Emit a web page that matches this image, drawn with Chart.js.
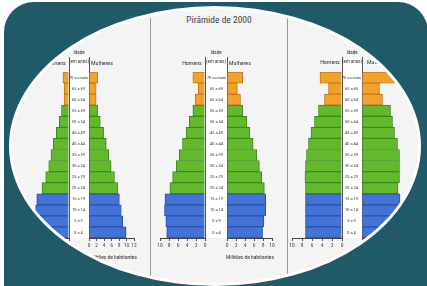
<!DOCTYPE html>
<html>
<head>
<meta charset="utf-8">
<script src="https://cdn.jsdelivr.net/npm/chart.js@4.4.1/dist/chart.umd.min.js"></script>
<style>
  html, body { margin: 0; padding: 0; background: #fff; }
  #frame { position: relative; width: 427px; height: 286px; overflow: hidden; }
  #panel { position: absolute; left: 4px; top: 2px; width: 424px; height: 320px; background: #215a67; border-radius: 30px; }
  #ring { position: absolute; left: 9px; top: 6px; width: 412px; height: 280px; border-radius: 50%; background: #fff; }
  #photo { position: absolute; left: 12px; top: 9px; width: 406px; height: 274px; border-radius: 50%; overflow: hidden; background: #f4f4f4; }
  #sheet { position: absolute; left: -12px; top: -9px; width: 427px; height: 286px; }
  .lbl { position: absolute; font-family: "Liberation Sans Narrow", "Roboto Condensed", "Liberation Sans", sans-serif;
         color: #333; white-space: nowrap; transform: translateX(-50%); line-height: 1; }
  .col { position: absolute; top: 57px; height: 181px; box-sizing: border-box; background: #fff;
         border-left: 1px solid #555; border-right: 1px solid #555; }
  .sep { position: absolute; top: 18px; height: 258px; width: 1px; background: #999; }
  canvas { position: absolute; top: 72px; }
</style>
</head>
<body>
<div id="frame">
  <div id="panel"></div>
  <div id="ring"></div>
  <div id="photo">
    <div id="sheet">
      <div class="sep" style="left:150px"></div>
      <div class="sep" style="left:287px"></div>

      <div class="col" style="left:69px;width:21px"></div>
      <div class="col" style="left:205px;width:23px"></div>
      <div class="col" style="left:342px;width:21px"></div>

      <canvas id="menA" width="61" height="186" style="left:16px"></canvas>
      <canvas id="womenA" width="81" height="186" style="left:61px"></canvas>
      <canvas id="menB" width="61" height="186" style="left:152px"></canvas>
      <canvas id="womenB" width="83" height="186" style="left:197px"></canvas>
      <canvas id="menC" width="66" height="186" style="left:284px"></canvas>
      <canvas id="womenC" width="86" height="186" style="left:334px"></canvas>

      <div class="lbl" style="left:219px;top:15px;font-size:9.5px;color:#444">Pirâmide de 2000</div>

      <div class="lbl" style="left:79px;top:50px;font-size:5px">Idade</div>
      <div class="lbl" style="left:79px;top:58.5px;font-size:5px">(em anos)</div>
      <div class="lbl" style="left:56px;top:60px;font-size:6px">Homens</div>
      <div class="lbl" style="left:102px;top:60px;font-size:6px">Mulheres</div>

      <div class="lbl" style="left:216px;top:50px;font-size:5px">Idade</div>
      <div class="lbl" style="left:216px;top:58.5px;font-size:5px">(em anos)</div>
      <div class="lbl" style="left:192px;top:59.5px;font-size:6px">Homens</div>
      <div class="lbl" style="left:240px;top:59.5px;font-size:6px">Mulheres</div>

      <div class="lbl" style="left:352px;top:50px;font-size:5px">Idade</div>
      <div class="lbl" style="left:352px;top:58.5px;font-size:5px">(em anos)</div>
      <div class="lbl" style="left:330px;top:59px;font-size:6px">Homens</div>
      <div class="lbl" style="left:378px;top:59px;font-size:6px">Mulheres</div>

      <div class="lbl" style="left:113px;top:255px;font-size:5.5px">Milhões de habitantes</div>
      <div class="lbl" style="left:250px;top:254.5px;font-size:5.5px">Milhões de habitantes</div>
      <div class="lbl" style="left:387px;top:255px;font-size:5.5px">Milhões de habitantes</div>
    </div>
  </div>
</div>

<script>
/* three population pyramids, age groups listed top to bottom */

const AGE_LABELS = [
  '70 ou mais', '65 a 69', '60 a 64', '55 a 59', '50 a 54',
  '45 a 49', '40 a 44', '35 a 39', '30 a 34', '25 a 29',
  '20 a 24', '15 a 19', '10 a 14', '5 a 9', '0 a 4',
];

// left pyramid (millions)
const MEN_A   = [1.6, 1.3, 1.3, 2.0, 2.6, 3.4, 4.2, 4.8, 5.4, 6.2, 7.2, 8.6, 8.9, 9.1, 9.3];
const WOMEN_A = [2.3, 1.9, 1.9, 2.3, 3.0, 3.9, 4.6, 5.3, 5.9, 6.8, 7.7, 8.1, 8.6, 9.0, 9.9];
const TICKS_A = [0, 2, 4, 6, 8, 10, 12];

// middle pyramid: 2000
const MEN_B   = [2.7, 1.5, 2.2, 2.7, 3.5, 4.2, 5.0, 5.7, 6.4, 7.2, 7.8, 8.9, 9.0, 8.7, 8.5];
const WOMEN_B = [3.5, 2.3, 3.0, 3.5, 4.4, 5.1, 5.8, 6.6, 7.2, 7.7, 8.3, 8.6, 8.6, 8.2, 7.9];
const TICKS_B = [0, 2, 4, 6, 8, 10];

// right pyramid
const MEN_C   = [4.4, 2.7, 3.5, 4.7, 5.5, 6.2, 6.7, 7.1, 7.3, 7.4, 7.3, 7.3, 7.3, 7.3, 7.3];
const WOMEN_C = [6.5, 3.5, 4.1, 5.7, 6.1, 6.5, 7.1, 7.5, 7.5, 7.5, 7.2, 7.6, 7.6, 7.5, 7.5];
const TICKS_C = [0, 2, 4, 6, 8, 10];

Chart.defaults.font.family = '"Liberation Sans Narrow", "Roboto Condensed", "Liberation Sans", sans-serif';
Chart.defaults.color = '#444';

// orange = elderly, green = adults, blue = young
function fillFor(i)  { return i < 3 ? '#f2a12f' : i < 11 ? '#62b92c' : '#4473d6'; }
function edgeFor(i)  { return i < 3 ? '#c47816' : i < 11 ? '#3c8a18' : '#2a4ea6'; }

function makeHalf(id, values, ticks, side, colWidth) {
  const ctx = document.getElementById(id);
  return new Chart(ctx, {
    type: 'bar',
    data: {
      labels: AGE_LABELS,
      datasets: [{
        data: values,
        backgroundColor: values.map((_, i) => fillFor(i)),
        borderColor: values.map((_, i) => edgeFor(i)),
        borderWidth: 1,
        barPercentage: 1,
        categoryPercentage: 1,
      }],
    },
    options: {
      indexAxis: 'y',
      responsive: false,
      animation: false,
      devicePixelRatio: 1,
      layout: { padding: { left: 8, right: 8, top: 0, bottom: 0 } },
      plugins: { legend: { display: false }, tooltip: { enabled: false } },
      scales: {
        x: {
          reverse: side === 'left',
          min: ticks[0],
          max: ticks[ticks.length - 1],
          afterBuildTicks: s => { s.ticks = ticks.map(v => ({ value: v })); },
          grid: { drawOnChartArea: false, drawTicks: true, tickLength: 3, color: '#555' },
          border: { color: '#444' },
          ticks: { font: { size: 5.5 }, color: '#444', padding: 1, maxRotation: 0, autoSkip: false },
          afterFit: s => { s.height = 20; s.paddingLeft = 0; s.paddingRight = 0; },
        },
        // age labels live in the white column between the halves
        y: side === 'left' ? { display: false } : {
          position: 'left',
          grid: { display: false, drawTicks: false, tickLength: 0 },
          border: { display: false },
          ticks: { font: { size: 4.4 }, color: '#333', crossAlign: 'center', padding: 1, autoSkip: false },
          afterFit: s => { s.width = colWidth; s.paddingTop = 0; s.paddingBottom = 0; },
        },
      },
    },
  });
}

makeHalf('menA',   MEN_A,   TICKS_A, 'left');
makeHalf('womenA', WOMEN_A, TICKS_A, 'right', 20);
makeHalf('menB',   MEN_B,   TICKS_B, 'left');
makeHalf('womenB', WOMEN_B, TICKS_B, 'right', 22);
makeHalf('menC',   MEN_C,   TICKS_C, 'left');
makeHalf('womenC', WOMEN_C, TICKS_C, 'right', 20);
</script>
</body>
</html>
